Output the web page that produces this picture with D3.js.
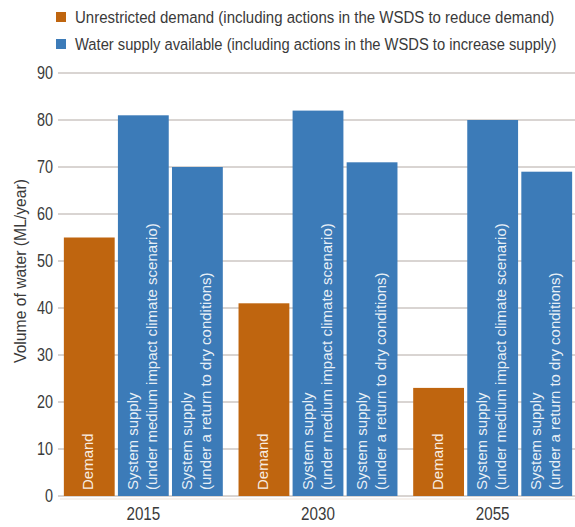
<!DOCTYPE html>
<html><head><meta charset="utf-8">
<script src="https://cdn.jsdelivr.net/npm/d3@7"></script>
<style>
body{margin:0;background:#fff;}
text{font-family:"Liberation Sans Narrow","Arial Narrow","Liberation Sans",sans-serif;}
</style></head>
<body><svg id="c" width="575" height="527"></svg>
<script>
const years = ["2015","2030","2055"];
const seriesNames = ["Demand","Supply (medium impact)","Supply (dry)"];
const demand = [55, 41, 23];
const supplyMedium = [81, 82, 80];
const supplyDry = [70, 71, 69];
const yTicks = [0,10,20,30,40,50,60,70,80,90];
const barLabels = [["Demand"],["System supply","(under medium impact climate scenario)"],["System supply","(under a return to dry conditions)"]];
const legendLabels = ["Unrestricted demand (including actions in the WSDS to reduce demand)","Water supply available (including actions in the WSDS to increase supply)"];
const colors = ["#bf650f","#3c7bb8"];
const barColor = [colors[0], colors[1], colors[1]];
const SX = 0.8;

const svg = d3.select("#c");
const y = d3.scaleLinear().domain([0,90]).range([496,73]);
const x0 = d3.scaleBand().domain(years).range([56,580]).paddingInner(0.09).paddingOuter(0.045);
const x1 = d3.scaleBand().domain([0,1,2]).range([0,x0.bandwidth()]).paddingInner(0.06);

// gridlines
svg.append("g").selectAll("line").data(yTicks).join("line")
  .attr("x1",58).attr("x2",575).attr("y1",d=>y(d)).attr("y2",d=>y(d))
  .attr("stroke","#b3aaa5").attr("stroke-width",1);

// y tick labels
svg.append("g").selectAll("text").data(yTicks).join("text")
  .attr("transform",d=>`translate(53,${y(d)}) scale(${SX},1)`)
  .attr("dy","0.36em").attr("text-anchor","end")
  .attr("font-size",18).attr("fill","#3a3a3a").text(d=>d);

const title = svg.append("text")
  .attr("text-anchor","middle").attr("font-size",16.5).attr("fill","#3a3a3a")
  .text("Volume of water (ML/year)");
{
  const w = title.node().getComputedTextLength();
  title.attr("transform",`translate(26,271) rotate(-90) scale(${184/w},1)`);
}

// bars
const rows = years.map((yr,i)=>({year:yr, vals:[demand[i],supplyMedium[i],supplyDry[i]]}));
const g = svg.append("g").selectAll("g").data(rows).join("g")
  .attr("transform",d=>`translate(${x0(d.year)},0)`);
g.selectAll("rect").data(d=>d.vals.map((v,k)=>({v,k}))).join("rect")
  .attr("x",d=>x1(d.k)).attr("width",x1.bandwidth())
  .attr("y",d=>y(d.v)).attr("height",d=>y(0)-y(d.v))
  .attr("fill",d=>barColor[d.k]);
g.each(function(){
  const gg = d3.select(this);
  [0,1,2].forEach(k=>{
    const lines = barLabels[k];
    const cx = x1(k)+x1.bandwidth()/2;
    const n = lines.length;
    lines.forEach((t,li)=>{
      const off = (li-(n-1)/2)*19;
      gg.append("text")
        .attr("transform",`translate(${cx+off+4},${y(0)-6}) rotate(-90)`)
        .attr("font-size",15).attr("fill","#fff").attr("fill-opacity",0.9).text(t);
    });
  });
});

// baseline
svg.append("line").attr("x1",60).attr("x2",575).attr("y1",499).attr("y2",499)
  .attr("stroke","#eee3da").attr("stroke-width",1);

// x labels
svg.append("g").selectAll("text").data(years).join("text")
  .attr("transform",d=>`translate(${x0(d)+x0.bandwidth()/2},520) scale(${SX},1)`)
  .attr("text-anchor","middle")
  .attr("font-size",19).attr("fill","#3a3a3a").text(d=>d);

// legend
const lg = svg.append("g").selectAll("g").data(legendLabels).join("g")
  .attr("transform",(d,i)=>`translate(56,${12+i*27})`);
lg.append("rect").attr("width",10).attr("height",10).attr("fill",(d,i)=>colors[i]);
lg.append("text").attr("dy","0.36em")
  .attr("font-size",17).attr("fill","#3a3a3a")
  .text(d=>d)
  .each(function(d,i){
    const w = this.getComputedTextLength();
    const target = i===0?480:482;
    d3.select(this).attr("transform",`translate(19,5) scale(${target/w},1)`);
  });
</script></body></html>
